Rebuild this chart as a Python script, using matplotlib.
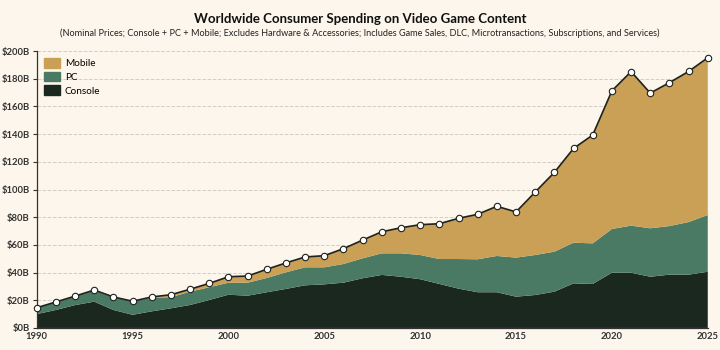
import numpy as np
import matplotlib.pyplot as plt
from matplotlib.patches import Patch

years = list(range(1990, 2026))

# top of each stacked band ($B)
console_top = [10, 13, 16.5, 19, 13, 9.5, 12, 14.2, 16.6, 20.2, 24, 23.3, 25.8, 28.2,
               30.8, 31.5, 32.7, 35.9, 38.3, 37, 35.2, 31.8, 28.4, 25.8, 25.8, 22.6,
               23.8, 26.2, 32.2, 31.8, 39.9, 39.9, 37, 38.5, 38.5, 40.6]
pc_top = [14.6, 18.5, 23, 27, 22, 19.3, 21.8, 22.2, 26.2, 29.4, 32.7, 32.7, 36.1, 40.2,
          43.8, 43.8, 46.2, 50.3, 53.9, 53.9, 52.7, 49.8, 49.8, 49.6, 52, 50.8,
          52.7, 55.1, 61.6, 61.1, 71.5, 73.9, 72, 73.6, 76.5, 81.6]
total = [14.6, 18.8, 23, 27.4, 22.4, 19.3, 22.4, 24, 28, 32.2, 37, 37.5, 42.4, 47,
         51.3, 52.2, 57.3, 63.5, 69.5, 72.4, 74.6, 75.3, 79.2, 82.1, 87.9, 83.8,
         98.2, 112.4, 129.7, 139.4, 171.3, 185.2, 169.7, 177.2, 185.3, 195.2]

console = np.array(console_top)
pc = np.array(pc_top) - console
mobile = np.array(total) - np.array(pc_top)

bg = "#fdf6ec"
c_mobile = "#c9a056"
c_pc = "#4b7a64"
c_console = "#1b2820"
dark = "#1e231f"

plt.rcParams['font.family'] = ['Lato', 'DejaVu Sans']

fig = plt.figure(figsize=(7.2, 3.5), dpi=100, facecolor=bg)
ax = fig.add_axes([0.051, 0.063, 0.932, 0.791], facecolor=bg)

ax.stackplot(years, console, pc, mobile, colors=[c_console, c_pc, c_mobile], lw=0, zorder=2)
ax.plot(years, total, color=dark, lw=1.2, marker="o", ms=4.6, mfc="white",
        mec=dark, mew=0.8, zorder=4, clip_on=False)

ax.set_xlim(1990, 2025)
ax.set_ylim(0, 200)
ax.set_xticks(range(1990, 2026, 5))
ax.set_yticks(range(0, 201, 20))
ax.set_yticklabels([f"${v}B" for v in range(0, 201, 20)])
ax.grid(axis="y", color="#d3cec5", ls="--", lw=0.7, zorder=1)
ax.set_axisbelow(True)

for s in ["top", "right"]:
    ax.spines[s].set_visible(False)
for s in ["left", "bottom"]:
    ax.spines[s].set_color("#333333")
    ax.spines[s].set_linewidth(0.9)
ax.tick_params(axis="y", labelsize=6.8, length=3, width=0.8, colors="#333333", pad=2)
ax.tick_params(axis="x", labelsize=6.8, length=0, colors="#333333", pad=3)
for lbl in ax.get_xticklabels() + ax.get_yticklabels():
    lbl.set_fontweight("bold")

handles = [Patch(color=c_mobile, label="Mobile"), Patch(color=c_pc, label="PC"),
           Patch(color=c_console, label="Console")]
ax.legend(handles=handles, loc="upper left", frameon=False, fontsize=7.2,
          handlelength=1.6, handleheight=1.1, borderaxespad=0.3, labelspacing=0.35,
          handletextpad=0.5)

fig.text(0.5, 0.945, "Worldwide Consumer Spending on Video Game Content",
         ha="center", va="center", fontsize=9.5, fontweight="bold", color="#111111")
fig.text(0.5, 0.905, "(Nominal Prices; Console + PC + Mobile; Excludes Hardware & Accessories; "
         "Includes Game Sales, DLC, Microtransactions, Subscriptions, and Services)",
         ha="center", va="center", fontsize=6.6, color="#222222")

fig.savefig("out.png", dpi=100, facecolor=bg)
